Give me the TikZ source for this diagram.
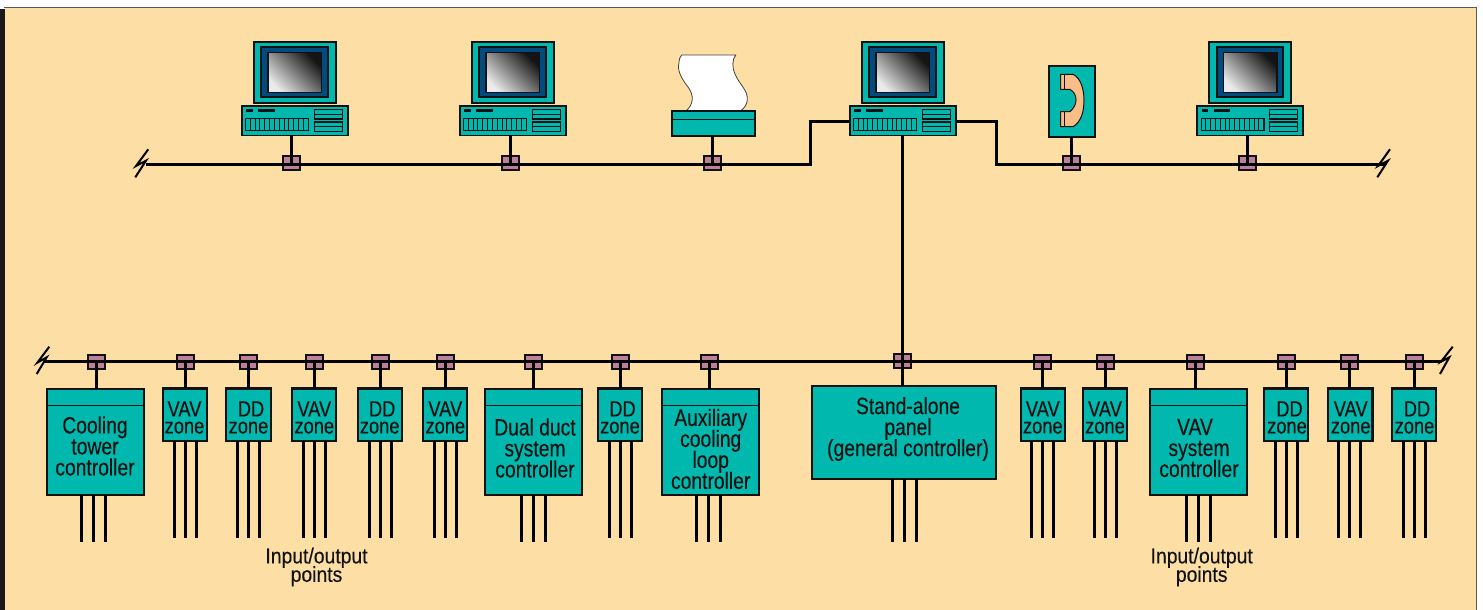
\documentclass[tikz,border=0pt]{standalone}
\usepackage{fontspec}
\setmainfont{Liberation Sans}
\newfontfamily\ctrlfont[FakeStretch=.82,FakeBold=.25]{Liberation Sans}
\newfontfamily\zonefont[FakeStretch=.83,FakeBold=.25]{Liberation Sans}
\newfontfamily\iofont[FakeStretch=.9,FakeBold=.2]{Liberation Sans}
\AtBeginDocument{\lineskiplimit=-100pt\relax}
\definecolor{peach}{HTML}{FDDFA5}
\definecolor{teal}{HTML}{00B8AD}
\definecolor{navy}{HTML}{004B7F}
\definecolor{tappink}{HTML}{BC7F9C}
\definecolor{handset}{HTML}{F8BE85}
\definecolor{ink}{HTML}{111111}
\tikzset{
  tealbox/.style={draw=ink,fill=teal,line width=2.2pt,inner sep=0pt,outer sep=0pt},
  thinbox/.style={draw=ink,fill=teal,line width=1.6pt,inner sep=0pt,outer sep=0pt},
  tapbox/.style={draw=ink,fill=tappink,line width=1.9pt,inner sep=0pt,outer sep=0pt,minimum width=17pt,minimum height=13.6pt},
  wire/.style={draw=black,line width=2.3pt,line join=miter},
  lead/.style={draw=black,line width=2.3pt},
  slash/.style={draw=black,line width=2pt,line join=miter},
  ctrltext/.style={font=\ctrlfont\fontsize{23.5}{21}\selectfont,align=center,text=ink,inner sep=0pt},
  zonetext/.style={font=\zonefont\fontsize{22}{17}\selectfont,align=center,text=ink,inner sep=0pt},
  iotext/.style={font=\iofont\fontsize{21.5}{18.5}\selectfont,align=center,text=ink,inner sep=0pt},
}
% #1 name, #2 x0, #3 y0, #4 x1, #5 y1, #6 style
\newcommand\rbox[6]{\node[#6,minimum width={(#4-#2)*1pt},minimum height={(#5-#3)*1pt}] (#1) at ({(#2+#4)/2},{(#3+#5)/2}) {};}
% lower tap: name, x
\newcommand\ltap[2]{\node[tapbox] (#1) at (#2,361.8) {};}
\newcommand\utap[2]{\node[tapbox] (#1) at (#2,162.8) {};}
% three leads: box, l1,l2,l3, end y
\newcommand\threeleads[5]{
  \coordinate (#1-e1) at (#2,#5);\coordinate (#1-e2) at (#3,#5);\coordinate (#1-e3) at (#4,#5);
  \draw[lead] (#1.south -| #1-e1) -- (#1-e1);
  \draw[lead] (#1.south -| #1-e2) -- (#1-e2);
  \draw[lead] (#1.south -| #1-e3) -- (#1-e3);}
% zone box: name, x0, x1, tap x, text, text x
\newcommand\zonebox[6]{
  \rbox{#1}{#2}{388.4}{#3}{440.8}{tealbox}
  \ltap{#1-tap}{#4}
  \node[zonetext] (#1-text) at (#6,417.5) {#5};
  \threeleads{#1}{#4-11}{#4}{#4+11}{538.3}
  \draw[wire] (#1-tap.center) -- (#1.north -| #1-tap.center);}
% controller: name, x0, x1, tap x, text, text x, text y, lead middle
\newcommand\ctrlbox[8]{
  \rbox{#1}{#2}{388.7}{#3}{494.6}{tealbox}
  \ltap{#1-tap}{#4}
  \coordinate (#1-dl) at (#2,405.7);
  \coordinate (#1-dr) at (#3,405.7);
  \draw[line width=1.4pt,ink] (#1-dl) -- (#1-dr);
  \node[ctrltext] (#1-text) at (#6,#7) {#5};
  \threeleads{#1}{#8-12}{#8}{#8+12}{541.5}
  \draw[wire] (#1-tap.center) -- (#1.north -| #1-tap.center);}
% computer: name, dx
\newcommand\computer[2]{
\begin{scope}[shift={(#2,0)}]
  \rbox{#1-mon}{253.7}{41.7}{335.7}{103.3}{tealbox}
  \rbox{#1-bezel}{261.3}{47.3}{327.7}{97.3}{tealbox,fill=navy}
  \path[draw=ink,line width=1.5pt,shading=axis,left color=black!8,right color=black!92,shading angle=135] (268,52.7) rectangle (321.3,92.7);
  \rbox{#1-base}{241.7}{106}{347.7}{135.3}{thinbox}
  \fill[ink] (246,109.3) rectangle (252.7,112);
  \fill[ink] (258,109.3) rectangle (274.7,112);
  \draw[ink,line width=1.2pt] (245.7,118.3) rectangle (308.7,130.3);
  \foreach \vx in {0,...,12} \draw[ink,line width=.9pt] ({250.2+\vx*4.83},118.3) -- ({250.2+\vx*4.83},130.3);
  \draw[ink,line width=1.2pt] (314.3,109.3) rectangle (342.3,119);
  \draw[ink,line width=.9pt] (314.3,114.2) -- (342.3,114.2);
  \draw[ink,line width=1.2pt] (314.3,122) rectangle (342.3,131.7);
  \draw[ink,line width=.9pt] (314.3,126.8) -- (342.3,126.8);
\end{scope}}
\begin{document}
\begin{tikzpicture}[x=1pt,y=-1pt]
\useasboundingbox (0,0) rectangle (1483,610);
% page ground
\fill[white] (0,0) rectangle (1483,610);
\fill[peach] (4.5,8) rectangle (1476.5,610);
\fill[black!90] (0,9) rectangle (4.8,610);
\draw[black!65,line width=1.3pt] (4.2,7.6) -- (1476.7,7.6) -- (1476.7,610);

% devices
\computer{c1}{0}
\computer{c2}{218}
\computer{c3}{608}
\computer{c4}{955.5}

% printer
\filldraw[fill=white,draw=black!75,line width=.8pt]
  (686,111) .. controls (694,104) and (694,95) .. (688,87)
  .. controls (681,78) and (677,70) .. (679,63)
  .. controls (679,59) and (680,57) .. (681.7,55)
  -- (735.7,55)
  .. controls (732,60) and (732,67) .. (735,74)
  .. controls (739,84) and (748,90) .. (747.3,100)
  .. controls (747,105) and (744,108) .. (740.7,111) -- cycle;
\rbox{prn}{672}{111.3}{755}{136.3}{tealbox}
\coordinate (prn-dl) at (672,119.3);
\coordinate (prn-dr) at (755,119.3);
\draw[ink,line width=1.4pt] (prn-dl) -- (prn-dr);

% telephone
\rbox{tel}{1049.3}{65.7}{1094.7}{136.7}{tealbox}
\filldraw[fill=handset,draw=ink,line width=1pt]
  (1060.7,74.3) -- (1073,74.3) .. controls (1081,78) and (1084,90) .. (1084,100)
  .. controls (1084,112) and (1081,122) .. (1073,126.7) -- (1060.7,126.7) -- (1060.7,111.7) -- (1070,111.7)
  .. controls (1074,108) and (1076,104) .. (1076,100) .. controls (1076,95) and (1074,92) .. (1070,89.3)
  -- (1060.7,89.3) -- cycle;
\draw[ink,line width=.9pt] (1064.3,74.3) -- (1064.3,89.3) (1064.3,111.7) -- (1064.3,126.7);

% upper taps
\utap{t1}{291.5}
\utap{t2}{510.5}
\utap{t3}{712.5}
\utap{t5}{1071.5}
\utap{t6}{1247.5}

% upper bus
\coordinate (ubusW) at (146,164.5);
\coordinate (ubusE) at (1385,164.5);
\coordinate (bendLb) at (810.5,164.5);
\coordinate (bendRb) at (996.5,164.5);
\coordinate (bendLt) at (810.5,121.5);
\coordinate (bendRt) at (996.5,121.5);
\draw[wire] (ubusW) -- (bendLb) -- (bendLt) -- (bendLt -| c3-base.west);
\draw[wire] (bendRt -| c3-base.east) -- (bendRt) -- (bendRb) -- (ubusE);
\draw[wire] (c1-base.south -| t1.center) -- (t1.center |- ubusW);
\draw[wire] (c2-base.south -| t2.center) -- (t2.center |- ubusW);
\draw[wire] (prn.south -| t3.center) -- (t3.center |- ubusW);
\draw[wire] (tel.south -| t5.center) -- (t5.center |- ubusW);
\draw[wire] (c4-base.south -| t6.center) -- (t6.center |- ubusW);
\coordinate (ua1) at (148.3,149.3);\coordinate (ua2) at (136,166);\coordinate (ua3) at (146,160.7);\coordinate (ua4) at (135.3,177.3);
\draw[slash] (ua1) -- (ua2) -- (ua3) -- (ua4);
\coordinate (ub1) at (1390,149.3);\coordinate (ub2) at (1378,166);\coordinate (ub3) at (1388,160.7);\coordinate (ub4) at (1377.3,177.3);
\draw[slash] (ub1) -- (ub2) -- (ub3) -- (ub4);

% lower bus ends
\coordinate (lbusW) at (43.5,361.5);
\coordinate (lbusE) at (1441.7,361.5);

% controllers and zones
\ctrlbox{cool}{46.7}{144}{96.5}{Cooling\\tower\\controller}{95}{446}{93.5}
\zonebox{vav1}{163}{207.3}{185.5}{VAV\\zone}{184.5}
\zonebox{dd1}{226.3}{270.7}{248.5}{\hspace*{5pt}DD\\zone}{248.5}
\zonebox{vav2}{292.3}{336.3}{314.5}{VAV\\zone}{314.3}
\zonebox{dd2}{357.7}{401.7}{380.5}{\hspace*{5pt}DD\\zone}{379.7}
\zonebox{vav3}{423.3}{467.3}{445.5}{VAV\\zone}{445.3}
\ctrlbox{dual}{485.3}{582}{533.5}{Dual duct\\system\\controller}{535}{448}{533.5}
\zonebox{dd3}{597.7}{642}{620.5}{\hspace*{5pt}DD\\zone}{620}
\ctrlbox{aux}{662}{759.3}{709.5}{Auxiliary\\cooling\\loop\\controller}{710.7}{449}{708.5}

% stand-alone panel
\rbox{panel}{812}{386}{995.7}{478.7}{tealbox}
\node[tapbox] (panel-tap) at (902.5,361) {};
\node[ctrltext] (panel-text) at (908,429) {Stand-alone\\panel\\(general controller)};
\threeleads{panel}{892.5}{904.5}{916.5}{541.5}

\zonebox{vav4}{1020.7}{1065}{1042.5}{VAV\\zone}{1042.8}
\zonebox{vav5}{1082.7}{1127}{1105.5}{VAV\\zone}{1105}
\ctrlbox{vsys}{1149.7}{1247}{1195.5}{\hspace*{-8pt}VAV\\system\\controller}{1199}{448}{1198.5}
\zonebox{dd4}{1264}{1308.3}{1286.5}{\hspace*{5pt}DD\\zone}{1287}
\zonebox{vav6}{1328.3}{1372.5}{1349.5}{VAV\\zone}{1350.7}
\zonebox{dd5}{1392}{1436.3}{1414.5}{\hspace*{5pt}DD\\zone}{1414.5}

\draw[wire] (lbusW) -- (lbusE);
\coordinate (la1) at (49.3,346.7);\coordinate (la2) at (37.3,362.7);\coordinate (la3) at (46.7,357.3);\coordinate (la4) at (36.7,374);
\draw[slash] (la1) -- (la2) -- (la3) -- (la4);
\coordinate (lb1) at (1452.7,346.7);\coordinate (lb2) at (1441,361.7);\coordinate (lb3) at (1449.3,357.3);\coordinate (lb4) at (1440,374);
\draw[slash] (lb1) -- (lb2) -- (lb3) -- (lb4);

% trunk
\draw[wire] (c3-base.south -| panel-tap.center) -- (panel-tap.center) -- (panel.north -| panel-tap.center);

\node[iotext] (io1) at (316.5,567) {Input/output\\points};
\node[iotext] (io2) at (1201.7,567) {Input/output\\points};
\end{tikzpicture}
\end{document}
